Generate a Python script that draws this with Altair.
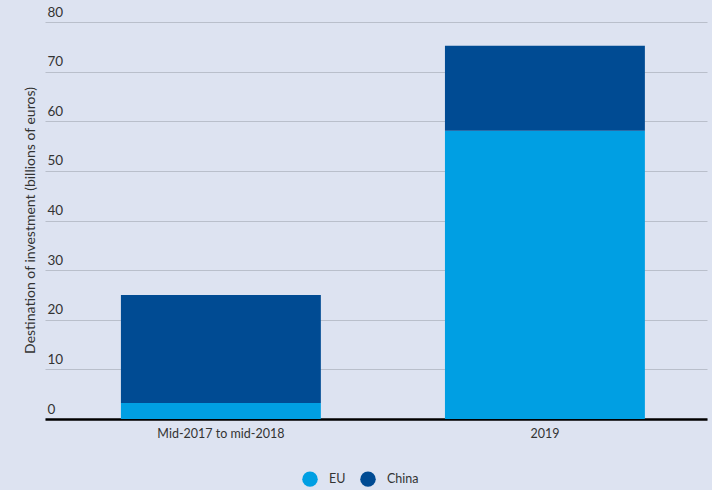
import altair as alt
import pandas as pd

periods = ["Mid-2017 to mid-2018", "2019"]
eu_values = [3.2, 58.1]
china_values = [21.8, 17.1]
series = ["EU", "China"]
colors = ["#009fe3", "#004b93"]

rows = []
for i, p in enumerate(periods):
    rows.append({"period": p, "dest": "EU", "value": eu_values[i], "ord": 0})
    rows.append({"period": p, "dest": "China", "value": china_values[i], "ord": 1})
df = pd.DataFrame(rows)

FONT = "Lato"
bg = "#dde3f1"

bars = alt.Chart(df).mark_bar().encode(
    x=alt.X("period:N", sort=periods,
            scale=alt.Scale(paddingInner=0.383, paddingOuter=0.213, align=0.55),
            axis=alt.Axis(title=None, labelAngle=0, labelFontSize=12.5, labelColor="#333333",
                          labelFont=FONT, ticks=False, domain=True, domainColor="#000000",
                          domainWidth=2.5, labelPadding=8)),
    y=alt.Y("value:Q", stack="zero",
            scale=alt.Scale(domain=[0, 80], nice=False),
            axis=alt.Axis(title="Destination of investment (billions of euros)",
                          values=[0, 10, 20, 30, 40, 50, 60, 70, 80],
                          grid=True, gridColor="#b9bfcb", gridWidth=1,
                          domain=False, ticks=False,
                          labelAlign="left", labelBaseline="bottom", labelPadding=-2,
                          labelOffset=-3, labelFontSize=13.5, labelColor="#333333",
                          labelFont=FONT,
                          titleFont=FONT, titleFontSize=14, titleFontWeight="normal",
                          titleColor="#333333", titleX=-15, titleY=198,
                          titleAngle=-90, titleAlign="center", titleBaseline="middle")),
    color=alt.Color("dest:N", scale=alt.Scale(domain=series, range=colors),
                    legend=alt.Legend(title=None, orient="none", direction="horizontal",
                                      legendX=257, legendY=449,
                                      symbolType="circle", symbolSize=240,
                                      symbolStrokeWidth=0, labelOffset=11,
                                      labelFont=FONT, labelFontSize=12.5,
                                      labelColor="#333333", columnPadding=14)),
    order=alt.Order("ord:Q"),
).properties(width=662, height=397)

chart = bars.properties(
    background=bg,
    padding={"left": 45, "top": 22, "right": 5, "bottom": 71},
    autosize=alt.AutoSizeParams(type="none"),
).configure_view(stroke=None)

chart.save("out.html", embed_options={"renderer": "svg", "actions": False})
